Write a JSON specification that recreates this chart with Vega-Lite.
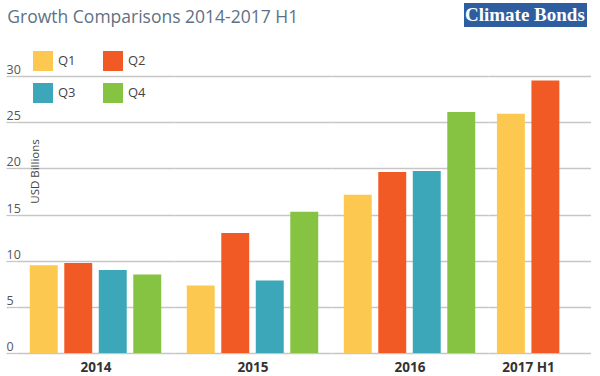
{
  "$schema": "https://vega.github.io/schema/vega-lite/v6.json",
  "padding": {"left": 5, "top": 3, "right": 0, "bottom": 0},
  "background": "white",
  "title": {"text": "Growth Comparisons 2014-2017 H1", "anchor": "start", "fontSize": 17.5, "font": "Open Sans", "fontWeight": "normal", "color": "#5f7183", "offset": -23, "dx": 2},
  "data": {"values": [
    {"year": "2014", "quarter": "Q1", "value": 9.5},
    {"year": "2014", "quarter": "Q2", "value": 9.75},
    {"year": "2014", "quarter": "Q3", "value": 9.0},
    {"year": "2014", "quarter": "Q4", "value": 8.5},
    {"year": "2015", "quarter": "Q1", "value": 7.3},
    {"year": "2015", "quarter": "Q2", "value": 13.0},
    {"year": "2015", "quarter": "Q3", "value": 7.85},
    {"year": "2015", "quarter": "Q4", "value": 15.3},
    {"year": "2016", "quarter": "Q1", "value": 17.15},
    {"year": "2016", "quarter": "Q2", "value": 19.6},
    {"year": "2016", "quarter": "Q3", "value": 19.7},
    {"year": "2016", "quarter": "Q4", "value": 26.1},
    {"year": "2017 H1", "quarter": "Q1", "value": 25.9},
    {"year": "2017 H1", "quarter": "Q2", "value": 29.5}
  ]},
  "spacing": 0,
  "hconcat": [
    {
      "width": 157, "height": 277,
      "transform": [{"filter": "datum.year == '2014'"}],
      "mark": {"type": "bar"},
      "encoding": {
        "x": {"field": "quarter", "type": "nominal", "scale": {"paddingInner": 0.19, "paddingOuter": 0.37}, "axis": {"labels": false, "ticks": false, "domain": false, "title": "2014"}},
        "y": {"field": "value", "type": "quantitative", "scale": {"domain": [0, 30]}, "axis": {"values": [0, 5, 10, 15, 20, 25, 30], "domain": false, "ticks": true, "tickSize": 11, "tickColor": "#c6c6c6", "tickWidth": 1.3, "labelAlign": "left", "labelPadding": 0, "labelBaseline": "alphabetic", "labelOffset": -2.5, "labelFontSize": 12.5, "labelColor": "#555555", "labelFont": "Open Sans", "title": "USD Billions", "titleX": 18, "titleY": 95, "titleAngle": 270, "titleAlign": "center", "titleBaseline": "middle", "titleFontSize": 11.5, "titleFontWeight": "normal", "titleColor": "#444444", "titleFont": "Open Sans"}},
        "color": {"field": "quarter", "type": "nominal", "scale": {"domain": ["Q1", "Q2", "Q3", "Q4"], "range": ["#fcc850", "#f15a24", "#3ba7b8", "#86c343"]}, "legend": {"orient": "none", "legendX": 16, "legendY": -25, "title": null, "columns": 2, "direction": "horizontal", "symbolType": "square", "symbolSize": 400, "symbolStrokeWidth": 0, "labelFontSize": 13, "labelFont": "Open Sans", "labelColor": "#444444", "columnPadding": 27, "rowPadding": 12, "labelOffset": 5, "padding": 0}},
        "strokeDash": {"datum": "Climate Bonds", "legend": {"orient": "none", "legendX": 447, "legendY": -73, "title": null, "fillColor": "#2e5e9f", "padding": 2, "symbolSize": 0, "symbolStrokeWidth": 0, "symbolOpacity": 0, "labelOffset": -20, "labelFont": "Liberation Serif", "labelFontSize": 19, "labelFontWeight": "bold", "labelColor": "white", "labelLimit": 300}}
      }
    },
    {
      "width": 157, "height": 277,
      "transform": [{"filter": "datum.year == '2015'"}],
      "mark": {"type": "bar"},
      "encoding": {
        "x": {"field": "quarter", "type": "nominal", "scale": {"paddingInner": 0.19, "paddingOuter": 0.37}, "axis": {"labels": false, "ticks": false, "domain": false, "title": "2015"}},
        "y": {"field": "value", "type": "quantitative", "scale": {"domain": [0, 30]}, "axis": {"values": [0, 5, 10, 15, 20, 25, 30], "domain": false, "ticks": false, "labels": false, "title": null}},
        "color": {"field": "quarter", "type": "nominal"}
      }
    },
    {
      "width": 157, "height": 277,
      "transform": [{"filter": "datum.year == '2016'"}],
      "mark": {"type": "bar"},
      "encoding": {
        "x": {"field": "quarter", "type": "nominal", "scale": {"paddingInner": 0.19, "paddingOuter": 0.37}, "axis": {"labels": false, "ticks": false, "domain": false, "title": "2016"}},
        "y": {"field": "value", "type": "quantitative", "scale": {"domain": [0, 30]}, "axis": {"values": [0, 5, 10, 15, 20, 25, 30], "domain": false, "ticks": false, "labels": false, "title": null}},
        "color": {"field": "quarter", "type": "nominal"}
      }
    },
    {
      "width": 103, "height": 277,
      "transform": [{"filter": "datum.year == '2017 H1'"}],
      "mark": {"type": "bar"},
      "encoding": {
        "x": {"field": "quarter", "type": "nominal", "scale": {"paddingInner": 0.19, "paddingOuter": 0.588, "align": 0.22}, "axis": {"labels": false, "ticks": false, "domain": false, "title": "2017 H1", "titleX": 40}},
        "y": {"field": "value", "type": "quantitative", "scale": {"domain": [0, 30]}, "axis": {"values": [0, 5, 10, 15, 20, 25, 30], "domain": false, "ticks": false, "labels": false, "title": null}},
        "color": {"field": "quarter", "type": "nominal"}
      }
    }
  ],
  "config": {
    "view": {"stroke": null},
    "font": "Open Sans",
    "axis": {"gridColor": "#c6c6c6", "gridWidth": 1.3},
    "axisX": {"titleFontSize": 13.5, "titleFontWeight": "bold", "titleColor": "#333333", "titlePadding": 7, "titleFont": "Open Sans"}
  }
}
